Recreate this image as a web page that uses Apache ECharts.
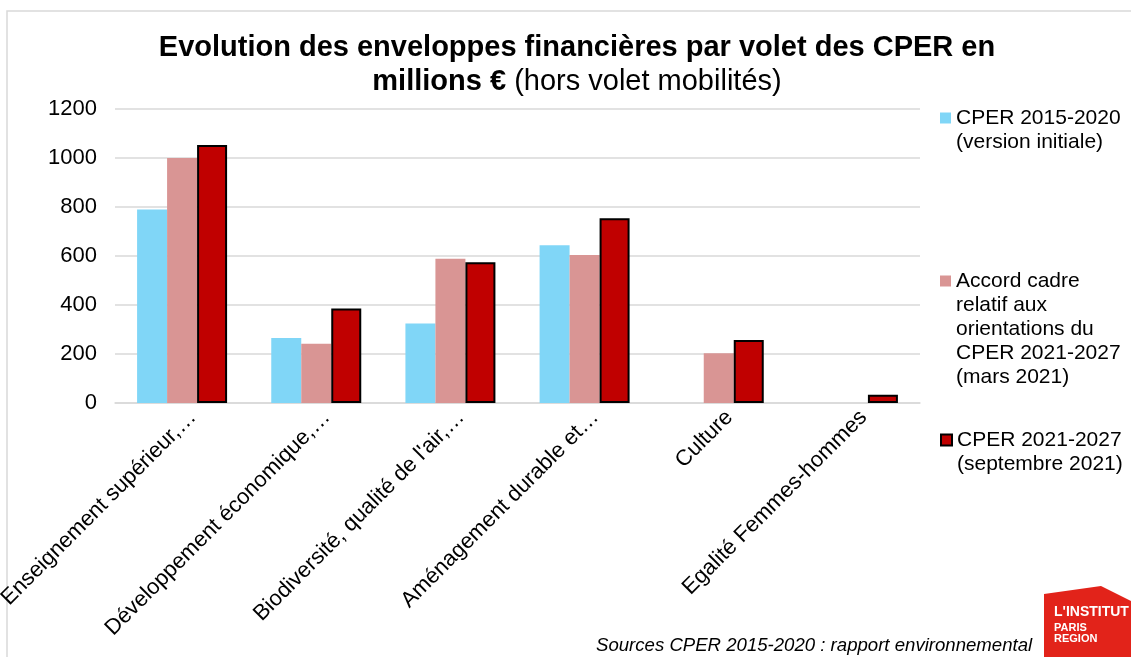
<!DOCTYPE html>
<html>
<head>
<meta charset="utf-8">
<script src="https://cdn.jsdelivr.net/npm/echarts@6/dist/echarts.min.js"></script>
<style>html,body{margin:0;padding:0;background:#fff}#c{width:1131px;height:657px}</style>
</head>
<body>
<div id="c"></div>
<script>
var categories = ['Enseignement supérieur,…', 'Développement économique,…', "Biodiversité, qualité de l'air,…", 'Aménagement durable et…', 'Culture', 'Egalité Femmes-hommes'];
var seriesNames = ['CPER 2015-2020\n(version initiale)', 'Accord cadre\nrelatif aux\norientations du\nCPER 2021-2027\n(mars 2021)', 'CPER 2021-2027\n(septembre 2021)'];
var cper2015 = [790, 265, 325, 644, null, null];
var accordMars2021 = [1000, 242, 589, 604, 203, null];
var cperSept2021 = [1053, 386, 574, 754, 257, 34];
var yTicks = [0, 200, 400, 600, 800, 1000, 1200];

var FONT = '"Liberation Sans", Arial, sans-serif';
var chart = echarts.init(document.getElementById('c'), null, {renderer: 'canvas'});

function legendFor(name, top) {
  var lines = name.split('\n').length;
  var pad = '';
  for (var i = 1; i < lines; i++) pad += '\n';
  return {
    data: [name], left: 940, top: top, orient: 'vertical', padding: 0,
    itemWidth: 11, itemHeight: 11, icon: 'rect', itemGap: 0, selectedMode: false,
    formatter: function (n) { return pad + n; },
    textStyle: {fontFamily: FONT, fontSize: 21, color: '#000', lineHeight: 24}
  };
}

chart.setOption({
  animation: false,
  backgroundColor: '#fff',
  title: {
    left: 577, top: 31, textAlign: 'center', padding: 0,
    text: '{b|Evolution des enveloppes financières par volet des CPER en}\n{b|millions €}{n| (hors volet mobilités)}',
    textStyle: {
      fontFamily: FONT, fontSize: 29, lineHeight: 34, color: '#000',
      rich: {
        b: {fontFamily: FONT, fontSize: 29, fontWeight: 'bold', color: '#000', lineHeight: 34},
        n: {fontFamily: FONT, fontSize: 29, fontWeight: 'normal', color: '#000', lineHeight: 34}
      }
    }
  },
  legend: [
    legendFor(seriesNames[0], 82),
    legendFor(seriesNames[1], 173),
    legendFor(seriesNames[2], 404)
  ],
  grid: {left: 115, right: 211, top: 109, bottom: 254, containLabel: false, outerBoundsMode: 'none'},
  xAxis: {
    type: 'category', data: categories,
    axisLine: {show: true, lineStyle: {color: '#d9d9d9', width: 1.5}},
    axisTick: {show: false},
    axisLabel: {rotate: 45, interval: 0, margin: 6, verticalAlign: 'top',
      padding: [0, -4, 0, 0],
      fontFamily: FONT, fontSize: 22, color: '#000'}
  },
  yAxis: {
    type: 'value', min: yTicks[0], max: yTicks[yTicks.length - 1], interval: 200,
    axisLine: {show: false}, axisTick: {show: false},
    splitLine: {lineStyle: {color: '#d9d9d9', width: 1.5}},
    axisLabel: {margin: 18, fontFamily: FONT, fontSize: 22, color: '#000',
      formatter: function (v) { return String(v); }}
  },
  series: [
    {name: seriesNames[0], type: 'bar', data: cper2015, barWidth: 30, barGap: '0%',
      itemStyle: {color: '#80d6f7'}},
    {name: seriesNames[1], type: 'bar', data: accordMars2021, barWidth: 30, barGap: '0%',
      itemStyle: {color: '#d99594'}},
    {name: seriesNames[2], type: 'bar', data: cperSept2021, barWidth: 30, barGap: '0%',
      itemStyle: {color: '#c00000', borderColor: '#000', borderWidth: 2}}
  ],
  graphic: [
    {type: 'rect', silent: true, z: -1, shape: {x: 7, y: 11, width: 1300, height: 800},
      style: {fill: 'none', stroke: '#d9d9d9', lineWidth: 1.5}},
    {type: 'text', left: 596, top: 636, silent: true,
      style: {text: 'Sources CPER 2015-2020 : rapport environnemental', fontFamily: FONT,
        fontSize: 18.6, fontStyle: 'italic', fill: '#000'}},
    {type: 'polygon', silent: true,
      shape: {points: [[1044, 594], [1101, 586], [1131, 601], [1131, 657], [1044, 657]]},
      style: {fill: '#e2231a'}},
    {type: 'text', left: 1054, top: 605, silent: true,
      style: {text: "L'INSTITUT", fontFamily: FONT, fontSize: 14, fontWeight: 'bold', fill: '#fff'}},
    {type: 'text', left: 1054, top: 622, silent: true,
      style: {text: 'PARIS\nREGION', fontFamily: FONT, fontSize: 11, fontWeight: 'bold', fill: '#fff', lineHeight: 11}}
  ]
});
</script>
</body>
</html>
